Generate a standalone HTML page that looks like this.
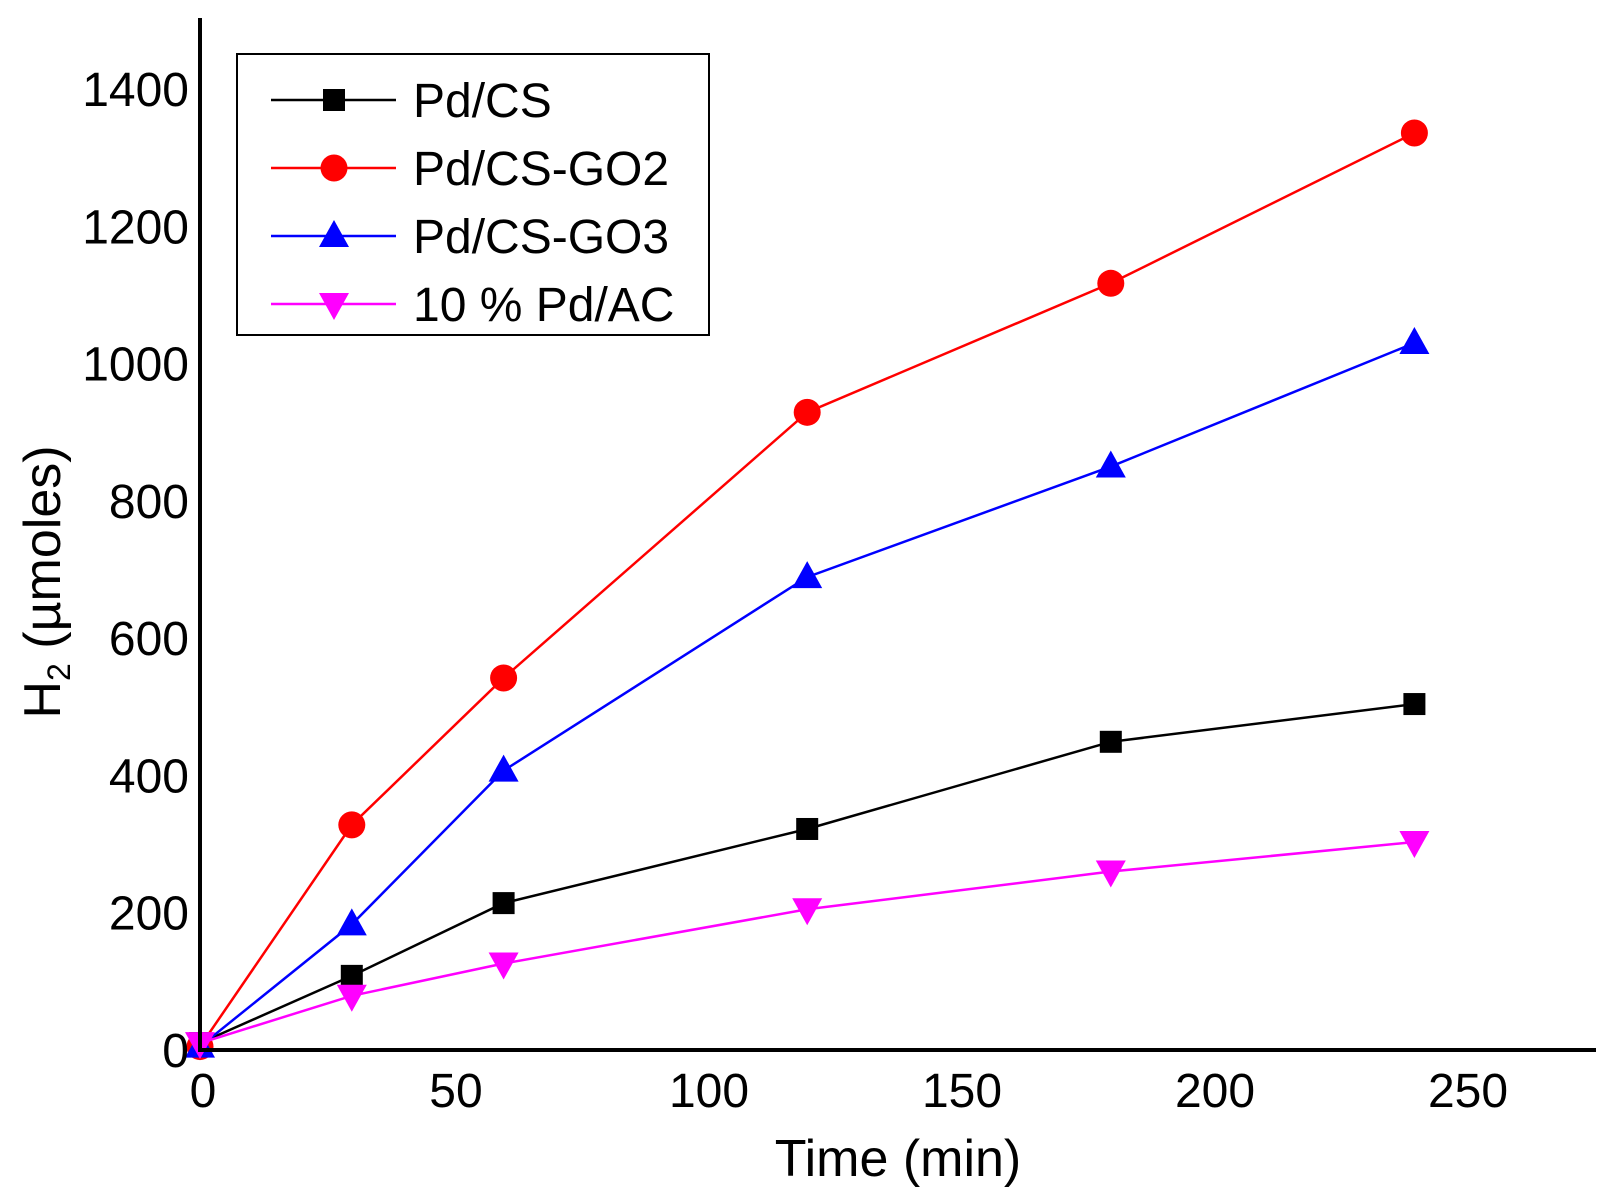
<!DOCTYPE html>
<html><head><meta charset="utf-8"><style>
html,body{margin:0;padding:0;background:#fff}
svg{display:block}
text{font-family:"Liberation Sans",sans-serif;fill:#000}
</style></head><body>
<svg id="chart" width="1598" height="1192">
<g id="plot"></g>
</svg>
<script>
const times=[0,30,60,120,180,240];
const seriesNames=["Pd/CS","Pd/CS-GO2","Pd/CS-GO3","10 % Pd/AC"];
const pdCS=[10,108,214,322,449,504];
const pdGO2=[5,328,542,929,1117,1336];
const pdGO3=[5,183,407,689,850,1030];
const pdAC=[10,79,126,205,260,303];
const xTicks=[0,50,100,150,200,250];
const yTicks=[0,200,400,600,800,1000,1200,1400];
const NS="http://www.w3.org/2000/svg";
const g=document.getElementById('plot');
const X0=200,Y0=1050;
function xs(v){return X0+v*5.06;}
function ys(v){return Y0-v*0.6864;}
function mk(t,a){const e=document.createElementNS(NS,t);for(const k in a)e.setAttribute(k,a[k]);g.appendChild(e);return e;}
function marker(type,cx,cy,color){
  let e;
  if(type==='sq'){e=mk('rect',{x:cx-11,y:cy-11,width:22,height:22,fill:color});}
  else if(type==='ci'){e=mk('circle',{cx:cx,cy:cy,r:13.5,fill:color});}
  else if(type==='up'){e=mk('polygon',{points:`${cx},${cy-16} ${cx-15},${cy+11} ${cx+15},${cy+11}`,fill:color});}
  else {e=mk('polygon',{points:`${cx},${cy+16} ${cx-15},${cy-11} ${cx+15},${cy-11}`,fill:color});}
  return e;
}
const all=[pdCS,pdGO2,pdGO3,pdAC];
const colors=["#000","#ff0000","#0000ff","#ff00ff"];
const types=["sq","ci","up","dn"];
const keys=["pd-cs","pd-cs-go2","pd-cs-go3","pd-ac"];
all.forEach((s,i)=>{
  const pl=mk('polyline',{points:s.map((v,j)=>xs(times[j])+','+ys(v)).join(' '),fill:'none',stroke:colors[i],'stroke-width':2.5});
  
  
  s.forEach((v,j)=>{
    const m=marker(types[i],xs(times[j]),ys(v),colors[i]);
    
    
  });
});
// axes
const ya=mk('line',{x1:200,y1:18,x2:200,y2:1052,stroke:'#000','stroke-width':4});


const xa=mk('line',{x1:198,y1:1050,x2:1596,y2:1050,stroke:'#000','stroke-width':4});


yTicks.forEach(v=>{
  const t=mk('text',{x:189,y:ys(v)+17,'text-anchor':'end','font-size':48});
  t.textContent=v;
  
  
});
xTicks.forEach(v=>{
  const t=mk('text',{x:xs(v)+3,y:1107,'text-anchor':'middle','font-size':48});
  t.textContent=v;
  
  
});
const xt=mk('text',{x:898,y:1176,'text-anchor':'middle','font-size':52});
xt.textContent='Time (min)';


const yt=mk('text',{x:0,y:0,'text-anchor':'middle','font-size':52,transform:'translate(60,582) rotate(-90)'});
yt.innerHTML='H<tspan font-size="32" dy="10">2</tspan><tspan dy="-10"> (µmoles)</tspan>';


// legend
const lb=mk('rect',{x:237,y:54,width:472,height:281,fill:'#fff',stroke:'#000','stroke-width':2});


const ly=[100,168,236,304];
seriesNames.forEach((n,i)=>{
  const l=mk('line',{x1:271,y1:ly[i],x2:396,y2:ly[i],stroke:colors[i],'stroke-width':2.5});
  
  
  const m=marker(types[i],334,ly[i],colors[i]);
  
  
  const t=mk('text',{x:413,y:ly[i]+17,'font-size':48});
  t.textContent=n;
  
  
});
</script>
</body></html>
